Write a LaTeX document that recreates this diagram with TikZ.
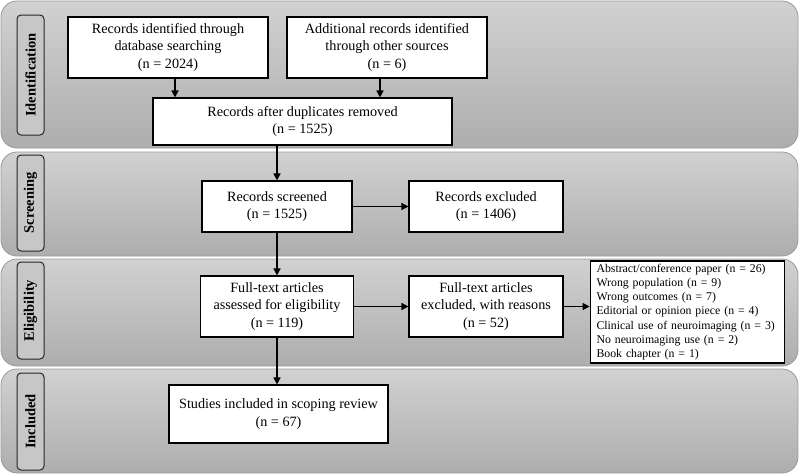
\documentclass[tikz,border=0pt]{standalone}
\usepackage{fontspec}
\setmainfont{Liberation Serif}
\usetikzlibrary{arrows.meta, positioning}

\begin{document}
\begin{tikzpicture}[x=1pt, y=-1pt,
    band/.style={draw=black!40, line width=0.8pt, rounded corners=16pt, top color=black!18, bottom color=black!32},
    tab/.style={draw=black!85, line width=1pt, rounded corners=4pt, fill=black!22, rotate=90, inner sep=0pt, minimum height=27pt, font=\bfseries\fontsize{14.5}{16}\selectfont},
    box/.style={draw, line width=1.1pt, fill=white, align=center, inner sep=2pt, font=\fontsize{14.2}{17.5}\selectfont},
    arr/.style={-{Triangle[length=7pt,width=7pt]}, line width=1.5pt}]
    \useasboundingbox (0,0) rectangle (800,475);

    % Phase bands
    \draw[band] (1,1) rectangle (798,148);
    \draw[band] (1,152) rectangle (798,256);
    \draw[band] (1,259) rectangle (798,366);
    \draw[band] (1,369) rectangle (798,473);

    % Phase labels
    \node[tab, minimum width=120pt] (idtab) at (30.5,75) {Identification};
    \node[tab, minimum width=96pt] (screentab) at (30.5,203) {Screening};
    \node[tab, minimum width=97pt] (eligtab) at (30.5,310.5) {Eligibility};
    \node[tab, minimum width=97pt] (incltab) at (30.5,421.5) {Included};

    % Boxes
    \node[box, minimum width=200pt, minimum height=61pt] (db) at (168,47.5) {Records identified through\\database searching\\(n = 2024)};
    \node[box, minimum width=200pt, minimum height=61pt] (other) at (387,47.5) {Additional records identified\\through other sources\\(n = 6)};
    \node[box, minimum width=299pt, minimum height=47pt] (dup) at (302.5,121.5) {Records after duplicates removed\\(n = 1525)};
    \node[box, minimum width=150pt, minimum height=51pt] (screened) at (277,206.5) {Records screened\\(n = 1525)};
    \node[box, minimum width=154pt, minimum height=51pt] (excluded) at (486,206.5) {Records excluded\\(n = 1406)};
    \node[box, minimum width=153pt, minimum height=61pt] (fulltext) at (277,306.5) {Full-text articles\\assessed for eligibility\\(n = 119)};
    \node[box, minimum width=154pt, minimum height=61pt] (ftexcl) at (486,306.5) {Full-text articles\\excluded, with reasons\\(n = 52)};
    \node[box, line width=1.8pt, align=left, text width=182pt, inner xsep=6pt, inner ysep=3pt, minimum height=102pt, font=\fontsize{11.8}{14.3}\selectfont] (reasons) at (687.5,312) {Abstract/conference paper (n = 26)\\Wrong population (n = 9)\\Wrong outcomes (n = 7)\\Editorial or opinion piece (n = 4)\\Clinical use of neuroimaging (n = 3)\\No neuroimaging use (n = 2)\\Book chapter (n = 1)};
    \node[box, minimum width=219pt, minimum height=58pt] (included) at (278.5,414) {Studies included in scoping review\\(n = 67)};

    % Arrows
    \draw[arr] ([xshift=7pt]db.south) -- ([xshift=7pt]db.south |- dup.north);
    \draw[arr] ([xshift=-7pt]other.south) -- ([xshift=-7pt]other.south |- dup.north);
    \draw[arr] (dup.south -| screened.north) -- (screened.north);
    \draw[arr] (screened) -- (excluded);
    \draw[arr] (screened) -- (fulltext);
    \draw[arr] (fulltext) -- (ftexcl);
    \draw[arr] (ftexcl.east) -- (ftexcl.east -| reasons.west);
    \draw[arr] (fulltext.south) -- (fulltext.south |- included.north);
\end{tikzpicture}
\end{document}
